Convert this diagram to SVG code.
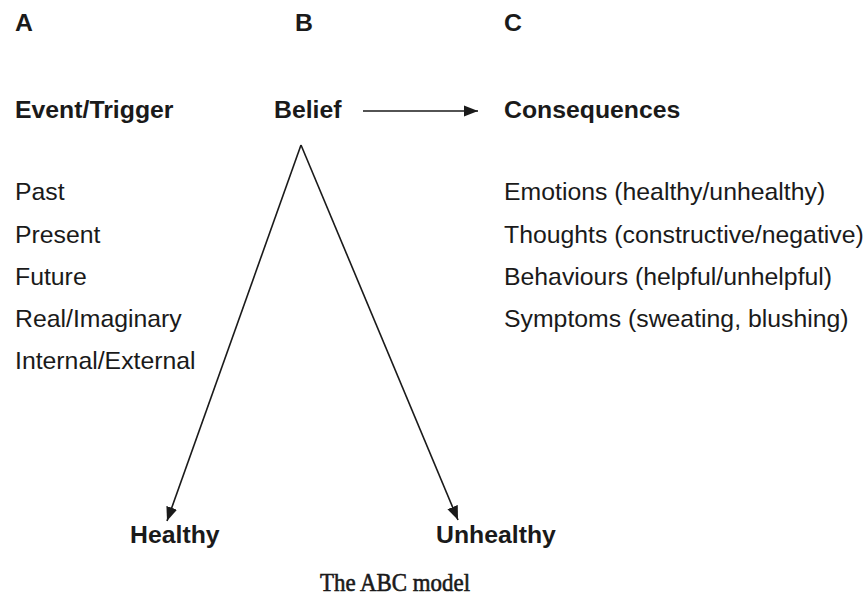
<svg xmlns="http://www.w3.org/2000/svg" width="867" height="608" viewBox="0 0 867 608">
<style>
.h{font-family:"Liberation Sans",Arial,sans-serif;font-weight:bold;font-size:24.8px;fill:#1a1a1a}
.t{font-family:"Liberation Sans",Arial,sans-serif;font-size:24.8px;fill:#1a1a1a}
.cap{font-family:"Liberation Serif","Times New Roman",serif;font-size:25px;fill:#1a1a1a;stroke:#1a1a1a;stroke-width:0.6}
.c{stroke:#1a1a1a;stroke-width:1.6;fill:none}
</style>
<defs>
<marker id="ah2" viewBox="0 0 10 10" refX="10" refY="5" markerWidth="14" markerHeight="14" markerUnits="userSpaceOnUse" orient="auto">
<path d="M0,1 L10,5 L0,9 z" fill="#1a1a1a"/>
</marker>
</defs>
<g id="labels">
<text class="h" x="15" y="31">A</text>
<text class="h" x="295" y="31">B</text>
<text class="h" x="504" y="31">C</text>
</g>
<g id="node-event">
<text class="h" x="15" y="118">Event/Trigger</text>
<text class="t" x="15" y="200">Past</text>
<text class="t" x="15" y="243">Present</text>
<text class="t" x="15" y="285">Future</text>
<text class="t" x="15" y="327">Real/Imaginary</text>
<text class="t" x="15" y="369">Internal/External</text>
</g>
<g id="node-belief">
<text class="h" x="274" y="118">Belief</text>
</g>
<g id="node-consequences">
<text class="h" x="504" y="118">Consequences</text>
<text class="t" x="504" y="200">Emotions (healthy/unhealthy)</text>
<text class="t" x="504" y="243">Thoughts (constructive/negative)</text>
<text class="t" x="504" y="285">Behaviours (helpful/unhelpful)</text>
<text class="t" x="504" y="327">Symptoms (sweating, blushing)</text>
</g>
<g id="node-healthy">
<text class="h" x="130" y="543">Healthy</text>
</g>
<g id="node-unhealthy">
<text class="h" x="436" y="543">Unhealthy</text>
</g>
<g id="connectors">
<line class="c" x1="363" y1="111" x2="478" y2="111" marker-end="url(#ah2)"/>
<line class="c" x1="301" y1="145" x2="167" y2="521" marker-end="url(#ah2)"/>
<line class="c" x1="301" y1="145" x2="458" y2="520" marker-end="url(#ah2)"/>
</g>
<text class="cap" x="320" y="591" textLength="150" lengthAdjust="spacingAndGlyphs">The ABC model</text>
</svg>
